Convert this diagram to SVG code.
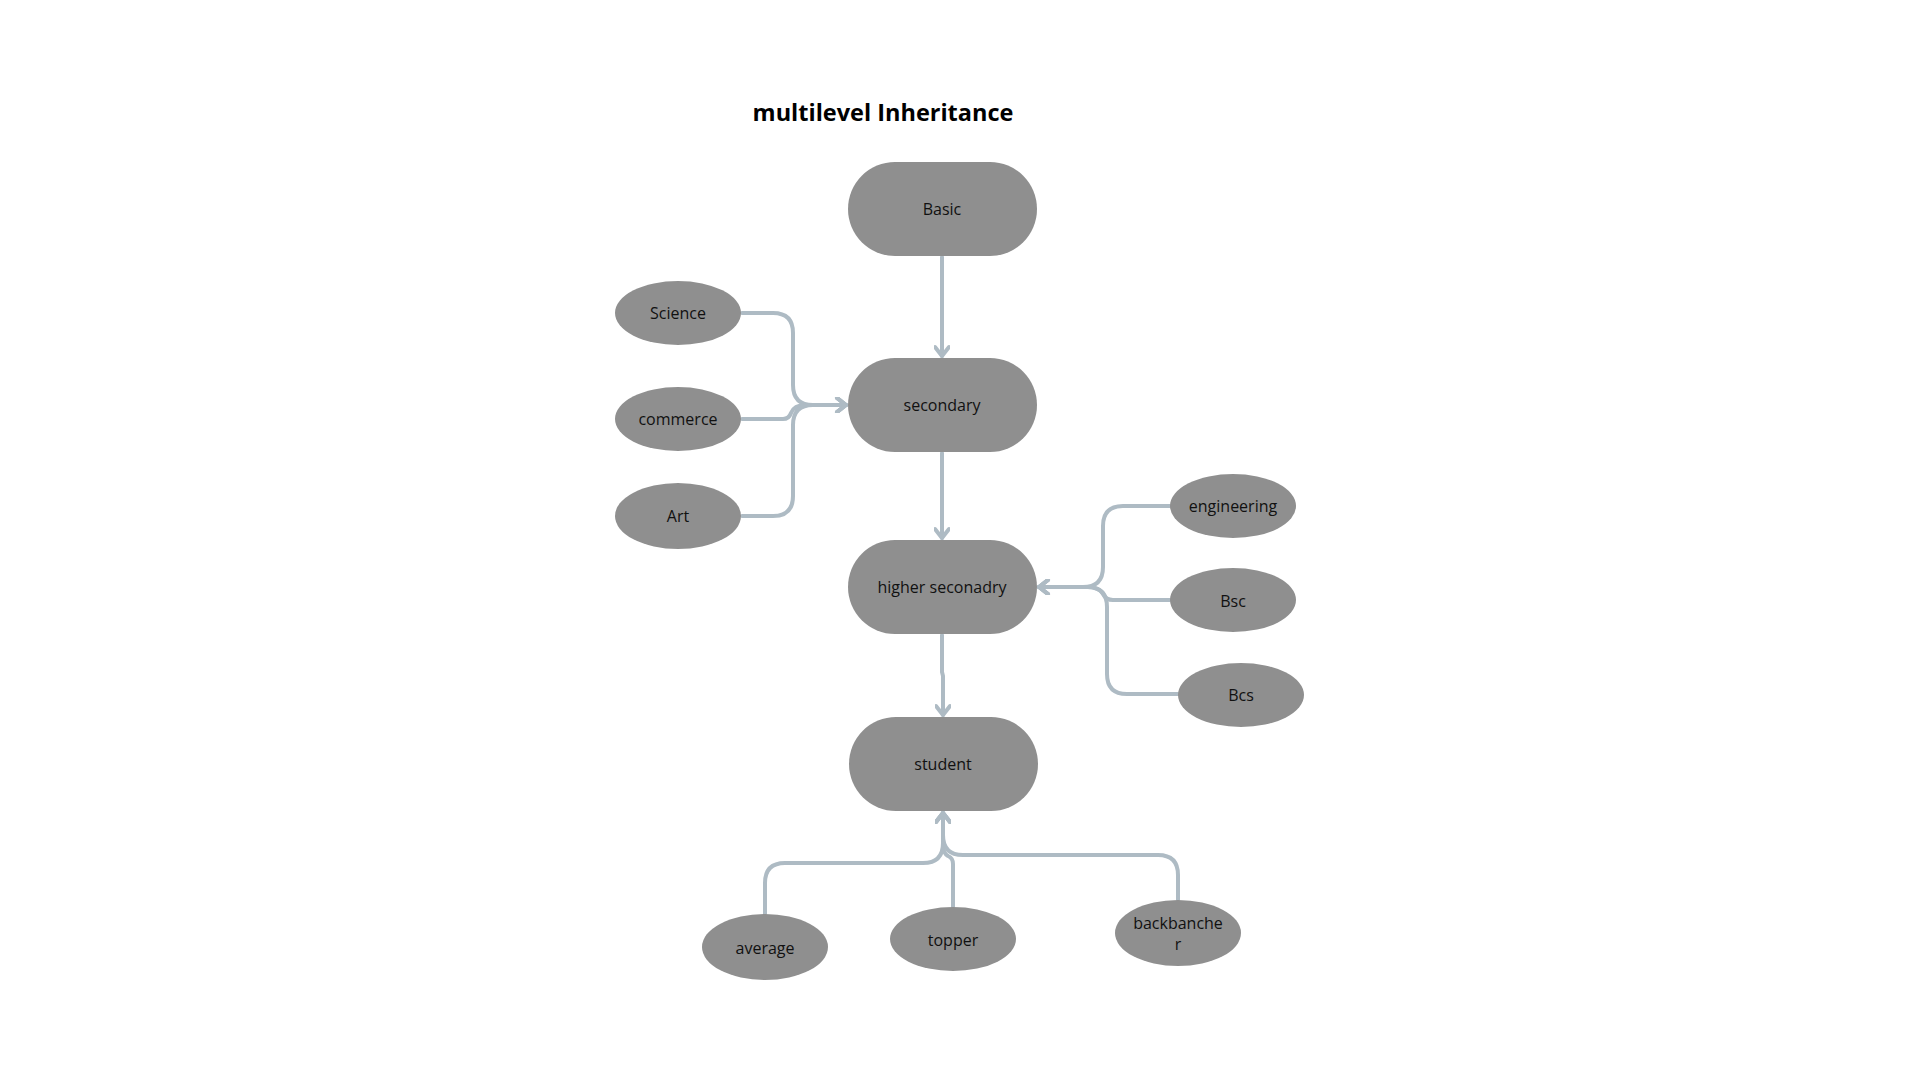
<svg xmlns="http://www.w3.org/2000/svg" width="1920" height="1080" viewBox="0 0 1920 1080">
<style>
.n{fill:#8f8f8f}
.t{font-family:"Open Sans","Liberation Sans",sans-serif;font-size:16px;fill:#111;text-anchor:middle}
.title{font-family:"Open Sans","Liberation Sans",sans-serif;font-size:23.5px;font-weight:bold;fill:#000;text-anchor:middle}
.c{fill:none;stroke:#aebbc4;stroke-width:4;stroke-linecap:round;stroke-linejoin:round}
</style>
<defs>
<marker id="ah" viewBox="0 0 14 16" refX="12" refY="8" markerWidth="14" markerHeight="16" markerUnits="userSpaceOnUse" orient="auto">
<polyline points="3,1 12,8 3,15" fill="none" stroke="#aebbc4" stroke-width="4" stroke-linecap="round" stroke-linejoin="round"/>
</marker>
</defs>
<rect width="1920" height="1080" fill="#fff"/>
<text class="title" x="883" y="121">multilevel Inheritance</text>
<g id="connectors">
<path class="c" d="M942,257 V356" marker-end="url(#ah)"/>
<path class="c" d="M942,453 V538" marker-end="url(#ah)"/>
<path class="c" d="M942,635 V672 L943,676 V715" marker-end="url(#ah)"/>
<path class="c" d="M742,313 H773 Q793,313 793,333 V385 Q793,405 813,405 H846" marker-end="url(#ah)"/>
<path class="c" d="M742,419 H783 Q789,419 791,413 Q794,405 806,405 H846" marker-end="url(#ah)"/>
<path class="c" d="M742,516 H773 Q793,516 793,496 V425 Q793,405 813,405 H846" marker-end="url(#ah)"/>
<path class="c" d="M1170,506 H1123 Q1103,506 1103,526 V567 Q1103,587 1083,587 H1039" marker-end="url(#ah)"/>
<path class="c" d="M1170,600 H1113 Q1106,600 1103,594 Q1099,587 1088,587 H1039" marker-end="url(#ah)"/>
<path class="c" d="M1178,694 H1127 Q1107,694 1107,674 V607 Q1107,587 1087,587 H1039" marker-end="url(#ah)"/>
<path class="c" d="M765,914 V883 Q765,863 785,863 H923 Q943,863 943,843 V813" marker-end="url(#ah)"/>
<path class="c" d="M953,907 V864 Q953,858 948,856 Q943,853 943,845 V813" marker-end="url(#ah)"/>
<path class="c" d="M1178,900 V875 Q1178,855 1158,855 H963 Q943,855 943,835 V813" marker-end="url(#ah)"/>
</g>
<g id="basic"><rect class="n" x="848" y="162" width="189" height="94" rx="47"/><text class="t" x="942" y="215">Basic</text></g>
<g id="secondary"><rect class="n" x="848" y="358" width="189" height="94" rx="47"/><text class="t" x="942" y="411">secondary</text></g>
<g id="higher"><rect class="n" x="848" y="540" width="189" height="94" rx="47"/><text class="t" x="942" y="593">higher seconadry</text></g>
<g id="student"><rect class="n" x="849" y="717" width="189" height="94" rx="47"/><text class="t" x="943" y="770">student</text></g>
<g id="science"><ellipse class="n" cx="678" cy="313" rx="63" ry="32"/><text class="t" x="678" y="319">Science</text></g>
<g id="commerce"><ellipse class="n" cx="678" cy="419" rx="63" ry="32"/><text class="t" x="678" y="425">commerce</text></g>
<g id="art"><ellipse class="n" cx="678" cy="516" rx="63" ry="33"/><text class="t" x="678" y="522">Art</text></g>
<g id="engineering"><ellipse class="n" cx="1233" cy="506" rx="63" ry="32"/><text class="t" x="1233" y="512">engineering</text></g>
<g id="bsc"><ellipse class="n" cx="1233" cy="600" rx="63" ry="32"/><text class="t" x="1233" y="607">Bsc</text></g>
<g id="bcs"><ellipse class="n" cx="1241" cy="695" rx="63" ry="32"/><text class="t" x="1241" y="701">Bcs</text></g>
<g id="average"><ellipse class="n" cx="765" cy="947" rx="63" ry="33"/><text class="t" x="765" y="954">average</text></g>
<g id="topper"><ellipse class="n" cx="953" cy="939" rx="63" ry="32"/><text class="t" x="953" y="946">topper</text></g>
<g id="backbancher"><ellipse class="n" cx="1178" cy="933" rx="63" ry="33"/><text class="t" x="1178" y="929">backbanche</text><text class="t" x="1178" y="950">r</text></g>
</svg>
